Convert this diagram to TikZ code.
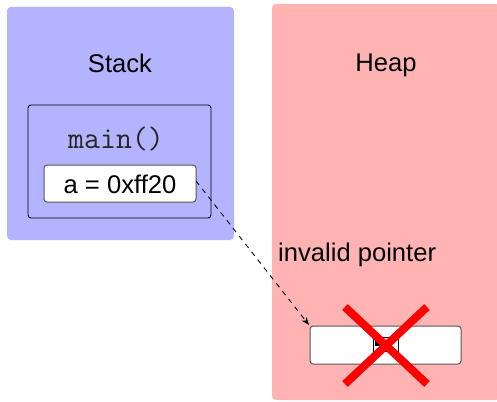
\documentclass[tikz,border=0pt]{standalone}
\usepackage{fontspec}
\setmainfont{Liberation Sans}
\usetikzlibrary{arrows.meta}
\definecolor{stackblue}{HTML}{B3B3FF}
\definecolor{heapred}{HTML}{FFB3B3}
\definecolor{boxgray}{HTML}{555555}
\begin{document}
\begin{tikzpicture}[x=1pt,y=-1pt,
  varbox/.style={draw=boxgray,line width=1pt,fill=white,rounded corners=3pt},
  lbl/.style={font=\fontsize{25.6}{30}\selectfont,inner sep=0pt},
  monolbl/.style={font=\fontsize{31}{34}\selectfont\ttfamily,inner sep=0pt,text=black!85}]
\useasboundingbox (0,0) rectangle (497,401);
\fill[white] (0,0) rectangle (497,401);
% regions
\fill[stackblue,rounded corners=4pt] (7,7) rectangle (234,240);
\fill[heapred,rounded corners=4pt] (272,4) rectangle (500,400);
\node[lbl,anchor=base] (stacklbl) at (120,73) {Stack};
\node[lbl,anchor=base] (heaplbl) at (386,72) {Heap};
% main frame
\draw[black,line width=0.9pt,rounded corners=3pt] (28,105) rectangle (211,218);
\node[monolbl,anchor=base] (mainlbl) at (116,148) {main()};
% a box
\path[varbox] (44,165) rectangle (196,202);
\node[lbl,anchor=base] (atext) at (120,193) {a = 0xff20};
\coordinate (astart) at (196,181);
% heap box
\path[varbox] (310,326) rectangle (461,364);
\coordinate (hnw) at (309,325);
\draw[black,line width=0.8pt] (373,337) rectangle (398,351);
\fill[black] (375,338) rectangle (380,346);
% cross
\draw[red,line width=8pt] (345,307) -- (427,384);
\draw[red,line width=8pt] (427,307) -- (345,384);
% label
\node[lbl,anchor=base west] (inv) at (278,261) {invalid pointer};
% pointer
\draw[black,line width=0.9pt,dash pattern=on 5pt off 5pt,-{Stealth[length=8pt,width=6pt]}] (astart) -- (hnw);
\end{tikzpicture}
\end{document}
